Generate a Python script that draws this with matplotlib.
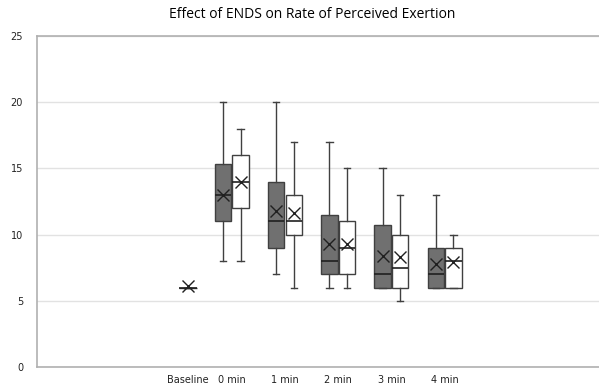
import matplotlib
matplotlib.use("Agg")
import matplotlib.pyplot as plt

categories = ["Baseline", "0 min", "1 min", "2 min", "3 min", "4 min"]

# Series A (dark grey) : 0..4 min
a_low  = [8, 7, 6, 6, 6]
a_q1   = [11, 9, 7, 6, 6]
a_med  = [13, 11, 8, 7, 7]
a_q3   = [15.3, 14, 11.5, 10.7, 9]
a_high = [20, 20, 17, 15, 13]
a_mean = [13.0, 11.8, 9.3, 8.4, 7.8]

# Series B (white) : 0..4 min
b_low  = [8, 6, 6, 5, 6]
b_q1   = [12, 10, 7, 6, 6]
b_med  = [14, 11, 9, 7.5, 8]
b_q3   = [16, 13, 11, 10, 9]
b_high = [18, 17, 15, 13, 10]
b_mean = [14.0, 11.6, 9.3, 8.3, 7.9]

# Baseline
base_val = 6
base_mean = 6.1

yticks = [0, 5, 10, 15, 20, 25]

fig = plt.figure(figsize=(5.99, 3.87), dpi=100)
ax = fig.add_axes([37/599, 20/387, 562/599, 331/387])

centers = [0, 1, 2, 3, 4]
base_pos = -0.83
off = 0.165
w = 0.31

def stats(lo, q1, med, q3, hi, mean):
    return [dict(whislo=l, q1=a, med=m, q3=b, whishi=h, mean=mn, fliers=[])
            for l, a, m, b, h, mn in zip(lo, q1, med, q3, hi, mean)]

edge = "#404040"
common = dict(widths=w, capwidths=0.12, showmeans=True, patch_artist=True, showfliers=False,
              whiskerprops=dict(color=edge, lw=1.0),
              capprops=dict(color=edge, lw=1.0),
              medianprops=dict(color="#202020", lw=1.2),
              meanprops=dict(marker="x", markeredgecolor="#202020", markersize=8, markeredgewidth=1.0))

ax.bxp(stats(a_low, a_q1, a_med, a_q3, a_high, a_mean),
       positions=[c - off for c in centers],
       boxprops=dict(facecolor="#707070", edgecolor=edge, lw=1.0), **common)
ax.bxp(stats(b_low, b_q1, b_med, b_q3, b_high, b_mean),
       positions=[c + off for c in centers],
       boxprops=dict(facecolor="white", edgecolor=edge, lw=1.0), **common)
base_common = dict(common)
base_common["widths"] = 0.34
ax.bxp([dict(whislo=base_val, q1=base_val, med=base_val, q3=base_val, whishi=base_val,
             mean=base_mean, fliers=[])],
       positions=[base_pos], boxprops=dict(facecolor="white", edgecolor=edge, lw=1.0),
       **base_common)

ax.set_xlim(-3.66, 6.9)
ax.set_ylim(0, 25)
ax.set_yticks(yticks)
ax.set_xticks([base_pos] + centers)
ax.set_xticklabels(categories)
ax.tick_params(axis="both", length=0, labelsize=7, colors="#222222")
ax.tick_params(axis="x", pad=6)
ax.tick_params(axis="y", pad=10)
ax.yaxis.grid(True, color="#e2e2e2", lw=1.0)
ax.set_axisbelow(True)
for s in ["left", "bottom", "top"]:
    ax.spines[s].set_color("#b0b0b0")
    ax.spines[s].set_linewidth(1.2)
ax.spines["right"].set_visible(False)

fig.text(312/599, 1 - 15/387, "Effect of ENDS on Rate of Perceived Exertion",
         ha="center", va="center", fontsize=10, family=["Open Sans", "DejaVu Sans"])

fig.savefig("out.png", dpi=100)
